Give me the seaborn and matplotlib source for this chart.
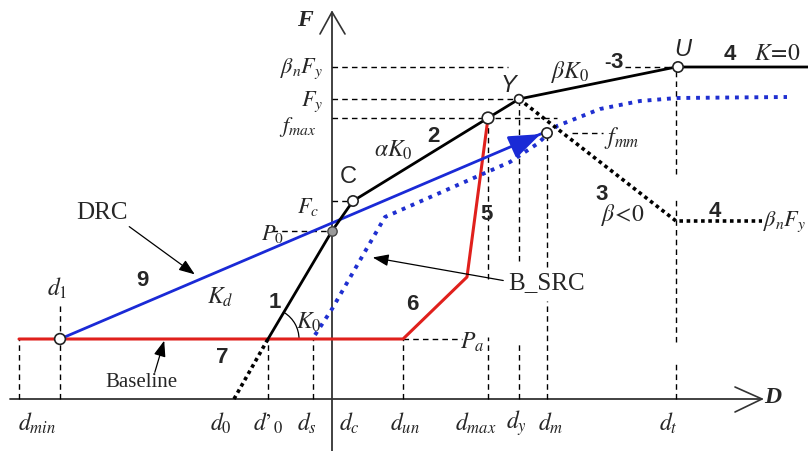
import matplotlib
matplotlib.use("Agg")
import matplotlib.pyplot as plt
from matplotlib.patches import Arc
import seaborn as sns

sns.set_theme(style="white")
plt.rcParams["mathtext.fontset"] = "stix"
plt.rcParams["font.family"] = ["Liberation Serif", "DejaVu Serif"]

# ---- characteristic displacements (D axis) ----
d_min, d_1, d_0, d_0p, d_s = -313, -272, -98, -64, -19
d_c, d_un, d_max, d_y, d_m, d_t = 21, 71, 156, 187, 215, 344
d_end = 476

# ---- characteristic forces (F axis) ----
F_bn = 332      # beta_n * F_y
F_y = 300
f_max = 281
f_mm = 266
F_c = 198
P_0 = 168
P_a = 60        # baseline / residual level
F_res = 178     # beta<0 plateau
F_bsrc = 302    # B_SRC plateau

# ---- backbone curve (segments 1-4) ----
bb_D = [d_0p, 0, d_c, d_max, d_y, d_t, d_end]
bb_F = [P_a, P_0, F_c, f_max, F_y, F_bn, F_bn]
# segment 7: extension of K0 down to d0
ext_D = [d_0, d_0p]
ext_F = [0, P_a]
# negative post-yield branch (beta<0)
neg_D = [d_y, d_t, 430]
neg_F = [F_y, F_res, F_res]

# ---- DRC (segment 9) ----
drc_D = [d_1, 211]
drc_F = [P_a, f_mm]

# ---- baseline + reloading path (segments 5, 6) ----
red_D = [d_min, d_un, 135, d_max]
red_F = [P_a, P_a, 122, f_max]

# ---- B_SRC curve ----
bsrc_D = [-17, 0, 31, 53, 178, 205, 225, 268, 308, 345, 455]
bsrc_F = [64, 90, 144, 182, 237, 255, 273, 290, 298, 301, 302]

fig = plt.figure(figsize=(8.08, 4.52), dpi=100)
ax = fig.add_axes([0, 0, 1, 1])
ax.set_xlim(-332, 476)
ax.set_ylim(-52, 400)
ax.axis("off")

# axes
ax.plot([-322, 430], [0, 0], color="#333333", lw=1.3)
ax.plot([403, 430, 403], [12, 0, -13], color="#333333", lw=1.2)
ax.plot([0, 0], [-52, 387], color="#333333", lw=1.3)
ax.plot([-12, 0, 13], [365, 387, 365], color="#333333", lw=1.2)

dash = dict(color="black", lw=1.0, linestyle=(0, (4, 3)))
# vertical guides
for x, segs in [
    (d_min, [(0, P_a)]),
    (d_1, [(0, 95)]),
    (d_0p, [(0, P_a)]),
    (d_s, [(0, P_a)]),
    (d_un, [(0, P_a)]),
    (d_max, [(0, 62), (120, f_max)]),
    (d_y, [(0, 55), (138, F_y)]),
    (d_m, [(0, 98), (132, f_mm)]),
    (d_t, [(0, 35), (57, 200), (225, F_bn)]),
]:
    for a, b in segs:
        ax.plot([x, x], [a, b], **dash)
# horizontal guides
for y, segs in [
    (F_bn, [(0, 176), (293, d_t)]),
    (F_y, [(0, 183)]),
    (f_max, [(0, 150), (163, 225)]),
    (F_c, [(0, 16)]),
    (P_0, [(-60, 0)]),
    (P_a, [(d_un, 130)]),
    (f_mm, [(240, 271)]),
]:
    for a, b in segs:
        ax.plot([a, b], [y, y], **dash)

# curves
sns.lineplot(x=red_D, y=red_F, sort=False, estimator=None, ax=ax,
             color="#e0201c", lw=2.2)
sns.lineplot(x=bsrc_D, y=bsrc_F, sort=False, estimator=None, ax=ax,
             color="#1f2fd0", lw=2.8, linestyle=(0, (1, 1.5)))
sns.lineplot(x=drc_D, y=drc_F, sort=False, estimator=None, ax=ax,
             color="#1a2ad6", lw=2.0)
ax.annotate("", xy=(drc_D[1], drc_F[1]), xytext=(180, 252),
            arrowprops=dict(arrowstyle="-|>,head_length=1.6,head_width=0.6",
                            color="#1a2ad6", lw=2.0))
sns.lineplot(x=bb_D, y=bb_F, sort=False, estimator=None, ax=ax,
             color="black", lw=2.0)
sns.lineplot(x=ext_D, y=ext_F, sort=False, estimator=None, ax=ax,
             color="black", lw=2.6, linestyle=(0, (1, 1)))
sns.lineplot(x=neg_D, y=neg_F, sort=False, estimator=None, ax=ax,
             color="black", lw=2.6, linestyle=(0, (1, 1)))

# markers
open_pts_D = [d_1, d_c, d_max, d_y, d_t + 2, d_m]
open_pts_F = [P_a, F_c, f_max, F_y, F_bn, f_mm]
open_sizes = [60, 55, 70, 40, 55, 55]
sns.scatterplot(x=open_pts_D, y=open_pts_F, s=open_sizes, ax=ax,
                color="white", edgecolor="#222222", linewidth=1.2, zorder=5,
                legend=False)
ax.scatter([0], [P_0], s=45, color="#9a9a9a", edgecolor="#444444",
           linewidth=1.0, zorder=6)

# K0 angle mark
ax.add_patch(Arc((d_0p, P_a), 62, 62, theta1=0, theta2=58,
                 color="black", lw=0.9))

# pointer arrows
ptr = dict(arrowstyle="-|>,head_length=0.8,head_width=0.3", color="black",
           lw=0.9)
ax.annotate("", xy=(-135, 123), xytext=(-205, 174), arrowprops=ptr)
ax.annotate("", xy=(-167, 61), xytext=(-178, 24), arrowprops=ptr)
ax.annotate("", xy=(38, 142), xytext=(174, 118), arrowprops=ptr)

# text
it = dict(fontsize=17, ha="center", va="center")
num = dict(fontsize=16, fontweight="bold", ha="center", va="center",
           family=["Liberation Sans", "DejaVu Sans"])
ax.text(-27, 380, "F", fontsize=17, fontweight="bold", fontstyle="italic",
        ha="center", va="center")
ax.text(441, 2, "D", fontsize=17, fontweight="bold", fontstyle="italic",
        ha="center", va="center")

ax.text(-9, 331, r"$\beta_n F_y$", fontsize=16, ha="right", va="center")
ax.text(-9, 298, r"$F_y$", fontsize=16, ha="right", va="center")
ax.text(-16, 273, r"$f_{max}$", fontsize=16, ha="right", va="center")
ax.text(-13, 193, r"$F_c$", fontsize=16, ha="right", va="center")
ax.text(-48, 166, r"$P_0$", fontsize=16, ha="right", va="center")

ax.text(-230, 187, "DRC", fontsize=18, ha="center", va="center")
ax.text(-191, 17, "Baseline", fontsize=15, ha="center", va="center")
ax.text(215, 117, "B_SRC", fontsize=18, ha="center", va="center")

ax.text(-112, 103, r"$K_d$", **it)
ax.text(-23, 78, r"$K_0$", **it)
ax.text(61, 250, r"$\alpha K_0$", **it)
ax.text(238, 328, r"$\beta K_0$", **it)
ax.text(445, 345, r"$K\!=\!0$", **it)
ax.text(291, 185, r"$\beta\!<\!0$", **it)
ax.text(290, 262, r"$f_{mm}$", **it)
ax.text(140, 58, r"$P_a$", **it)
ax.text(431, 178, r"$\beta_n F_y$", fontsize=16, ha="left", va="center")
ax.text(-275, 112, r"$d_1$", **it)

sans = dict(fontsize=17, ha="center", va="center",
            family=["Liberation Sans", "DejaVu Sans"])
ax.text(16, 223, "C", **sans)
ax.text(176, 315, "Y", fontstyle="italic", **sans)
ax.text(351, 350, "U", fontstyle="italic", **sans)

for s, x, y in [("9", -190, 120), ("1", -57, 98), ("7", -110, 42),
                ("2", 101, 263), ("3", 285, 337), ("4", 398, 345),
                ("5", 155, 185), ("3", 270, 205), ("4", 383, 188),
                ("6", 80, 95)]:
    ax.text(x, y, s, **num)
ax.text(279, 337, "-", fontsize=14, fontweight="bold", ha="right",
        va="center", family=["Liberation Sans", "DejaVu Sans"])

# D-axis labels
tick_names = [r"$d_{min}$", r"$d_0$", "$d\u2019_0$", r"$d_s$", r"$d_c$",
              r"$d_{un}$", r"$d_{max}$", r"$d_y$", r"$d_m$", r"$d_t$"]
tick_pos = [-295, -111, -64, -25, 17, 73, 144, 184, 219, 336]
for name, x in zip(tick_names, tick_pos):
    ax.text(x, -23, name, **it)

fig.savefig("out.png", dpi=100)
